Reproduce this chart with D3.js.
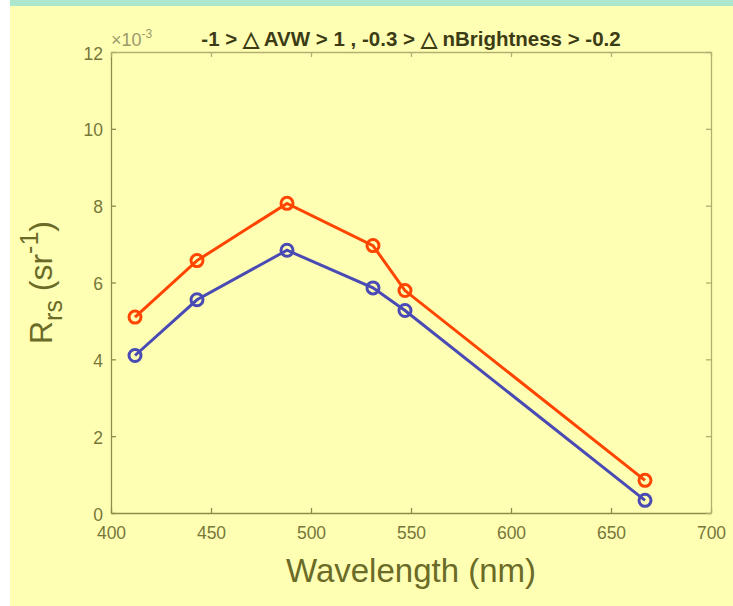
<!DOCTYPE html>
<html>
<head>
<meta charset="utf-8">
<script src="https://cdn.jsdelivr.net/npm/d3@7"></script>
<style>
  body { margin: 0; background: #ffffff; }
  svg { display: block; font-family: "Liberation Sans", Arial, sans-serif; }
</style>
</head>
<body>
<div id="chart"></div>
<script>
// wavelengths (nm) and Rrs values (x 10^-3 sr^-1)
const wavelengths = [412, 443, 488, 531, 547, 667];
const upperRrs = [5.10, 6.57, 8.06, 6.96, 5.79, 0.85];
const lowerRrs = [4.10, 5.55, 6.84, 5.86, 5.27, 0.33];
const xTicks = [400, 450, 500, 550, 600, 650, 700];
const yTicks = [0, 2, 4, 6, 8, 10, 12];

const W = 733, H = 606;
const margin = {top: 52, right: 22, bottom: 93, left: 111},
  width = W - margin.left - margin.right,
  height = H - margin.top - margin.bottom;

const svg = d3.select("#chart")
  .append("svg")
    .attr("width", W)
    .attr("height", H);

// backgrounds
svg.append("rect").attr("x", 10).attr("y", 0).attr("width", W - 10).attr("height", H).attr("fill", "#ffffb4");
svg.append("rect").attr("x", 10).attr("y", 0).attr("width", W - 10).attr("height", 6).attr("fill", "#ace6cc");

const g = svg.append("g")
  .attr("transform", `translate(${margin.left},${margin.top})`);

const x = d3.scaleLinear().domain([400, 700]).range([0, width]);
const y = d3.scaleLinear().domain([0, 12]).range([height, 0]);

const axisColor = "#8c8c4c";
const tickText = "#77773a";

// axes with inward ticks
const xAxis = g.append("g")
  .attr("transform", `translate(0,${height})`)
  .call(d3.axisBottom(x).tickValues(xTicks).tickSizeInner(-5).tickSizeOuter(0).tickPadding(14));
const yAxis = g.append("g")
  .call(d3.axisLeft(y).tickValues(yTicks).tickSizeInner(-5).tickSizeOuter(0).tickPadding(8));
const xTop = g.append("g")
  .call(d3.axisTop(x).tickValues(xTicks).tickSizeInner(-5).tickSizeOuter(0).tickFormat(""));
const yRight = g.append("g")
  .attr("transform", `translate(${width},0)`)
  .call(d3.axisRight(y).tickValues(yTicks).tickSizeInner(-5).tickSizeOuter(0).tickFormat(""));

[xAxis, yAxis, xTop, yRight].forEach(a => {
  a.selectAll("path, line").attr("stroke", axisColor).attr("stroke-width", 1.3);
  a.selectAll("text").attr("fill", tickText).style("font-size", "17.5px");
});
yAxis.selectAll("text").attr("dy", "0.4em");
xTop.selectAll("path, line").attr("stroke", "#b0b070");
yRight.selectAll("path, line").attr("stroke", "#b0b070");

// lines and markers
const series = [
  {values: upperRrs, color: "#ff4500"},
  {values: lowerRrs, color: "#4a4ab4"}
];
const line = d3.line()
  .x((d, i) => x(wavelengths[i]))
  .y(d => y(d));

series.forEach(s => {
  g.append("path")
    .datum(s.values)
    .attr("fill", "none")
    .attr("stroke", s.color)
    .attr("stroke-width", 3)
    .attr("d", line);
  g.selectAll(null)
    .data(s.values)
    .enter().append("circle")
      .attr("cx", (d, i) => x(wavelengths[i]))
      .attr("cy", d => y(d))
      .attr("r", 6)
      .attr("fill", "none")
      .attr("stroke", s.color)
      .attr("stroke-width", 3);
});

// exponent label
const expo = svg.append("text")
  .attr("x", margin.left)
  .attr("y", 46)
  .attr("fill", "#9a9a6a")
  .style("font-size", "18px");
expo.append("tspan").text("×10");
expo.append("tspan").attr("dy", -8).style("font-size", "12px").text("-3");

// title
svg.append("text")
  .attr("x", margin.left + width / 2)
  .attr("y", 46)
  .attr("text-anchor", "middle")
  .attr("fill", "#3c3c14")
  .style("font-size", "20.5px")
  .style("font-weight", "bold")
  .text("-1 > \u25B3 AVW > 1 , -0.3 > \u25B3 nBrightness > -0.2");

// x label
svg.append("text")
  .attr("x", margin.left + width / 2)
  .attr("y", 582)
  .attr("text-anchor", "middle")
  .attr("fill", "#6b6b28")
  .style("font-size", "33px")
  .text("Wavelength (nm)");

// y label
const yl = svg.append("text")
  .attr("transform", `translate(52,${margin.top + height / 2}) rotate(-90)`)
  .attr("text-anchor", "middle")
  .attr("fill", "#6b6b28")
  .style("font-size", "32px");
yl.append("tspan").text("R");
yl.append("tspan").attr("dy", 10).style("font-size", "25px").text("rs");
yl.append("tspan").attr("dy", -10).text("  (sr");
yl.append("tspan").attr("dy", -14).style("font-size", "25px").text("-1");
yl.append("tspan").attr("dy", 14).text(")");
</script>
</body>
</html>
